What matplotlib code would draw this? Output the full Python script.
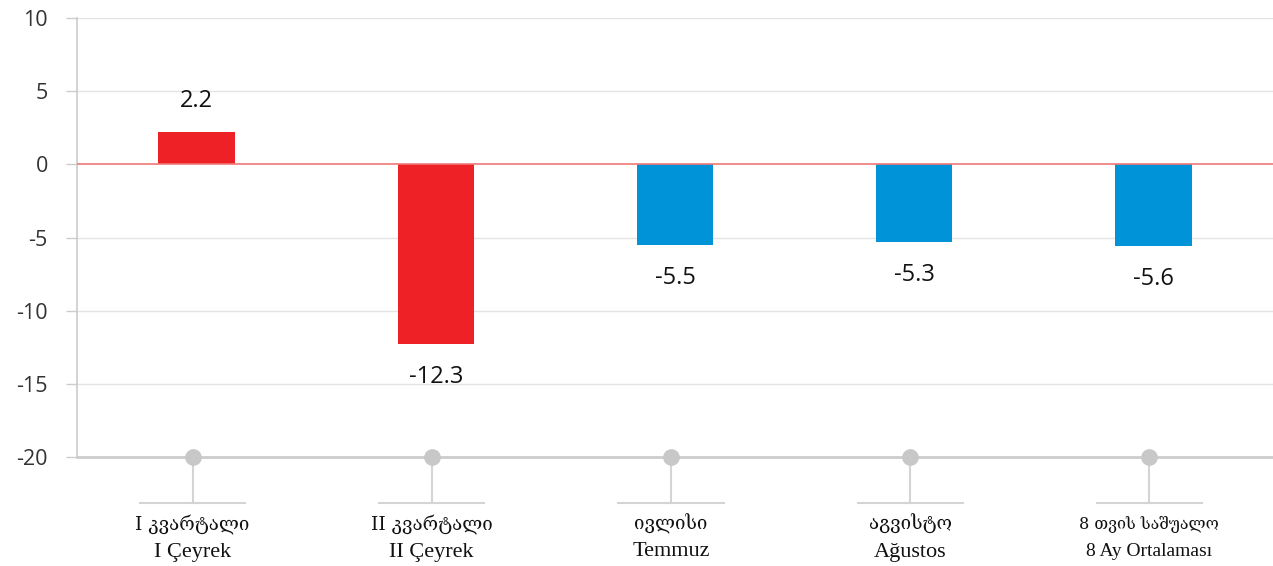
import matplotlib
matplotlib.use("Agg")
import matplotlib.pyplot as plt
import matplotlib.transforms as mtransforms

categories_ka = ["I კვარტალი", "II კვარტალი", "ივლისი", "აგვისტო", "8 თვის საშუალო"]
categories_tr = ["I Çeyrek", "II Çeyrek", "Temmuz", "Ağustos", "8 Ay Ortalaması"]
values = [2.2, -12.3, -5.5, -5.3, -5.6]
bar_colors = ["#EE2226", "#EE2226", "#0093D7", "#0093D7", "#0093D7"]
yticks = [10, 5, 0, -5, -10, -15, -20]

fig = plt.figure(figsize=(12.73, 5.66), dpi=100)
ax = fig.add_axes([77/1273, 109/566, 1 - 77/1273, 439/566])

x = list(range(len(values)))
ax.bar(x, values, width=0.32, color=bar_colors, zorder=3)

ax.set_xlim(-0.5, 4.5)
ax.set_ylim(-20, 10)
ax.set_yticks(yticks)
ax.set_yticklabels([str(t) for t in yticks], fontsize=15.5, color="#333333", family="Open Sans")
ax.tick_params(axis="y", length=8, color="#cccccc", width=1, pad=13)
ax.set_xticks([])

for t in yticks:
    if t == 0:
        ax.axhline(t, color="#F07878", lw=1.2, zorder=4)
    elif t != -20:
        ax.axhline(t, color="#e4e4e4", lw=1, zorder=1)

for s in ["top", "right"]:
    ax.spines[s].set_visible(False)
ax.spines["left"].set_color("#cccccc")
ax.spines["left"].set_linewidth(1.2)
ax.spines["bottom"].set_color("#cccccc")
ax.spines["bottom"].set_linewidth(2)

for xi, v in zip(x, values):
    if v >= 0:
        ax.annotate(f"{v}", (xi, v), xytext=(0, 31), textcoords="offset pixels",
                    ha="center", va="center", fontsize=17, family="Open Sans", color="#111111")
    else:
        ax.annotate(f"{v}", (xi, v), xytext=(0, -33), textcoords="offset pixels",
                    ha="center", va="center", fontsize=17, family="Open Sans", color="#111111")

trans = mtransforms.blended_transform_factory(ax.transData, ax.transAxes)
px = 1 / 439.0
for i, xi in enumerate(x):
    xd = xi - 0.017
    ax.plot([xd, xd], [0, -46 * px], transform=trans, color="#d4d4d4", lw=1.5, clip_on=False, zorder=2)
    ax.plot([xd - 0.22, xd + 0.22], [-46 * px, -46 * px], transform=trans, color="#d4d4d4", lw=1.5,
            clip_on=False, zorder=2)
    ax.plot([xd], [0], transform=trans, marker="o", ms=11, color="#c8c8c8", clip_on=False, zorder=5)
    fs1 = 13.5 if i < 4 else 11.5
    fs2 = 16 if i < 4 else 14
    ax.text(xd, -67 * px, categories_ka[i], transform=trans, ha="center", va="center",
            fontsize=fs1, family=["DejaVu Serif", "DejaVu Sans"], color="#111111")
    ax.text(xd, -95 * px, categories_tr[i], transform=trans, ha="center", va="center",
            fontsize=fs2, family=["Liberation Serif", "DejaVu Serif"], color="#111111")

fig.savefig("out.png", dpi=100)
